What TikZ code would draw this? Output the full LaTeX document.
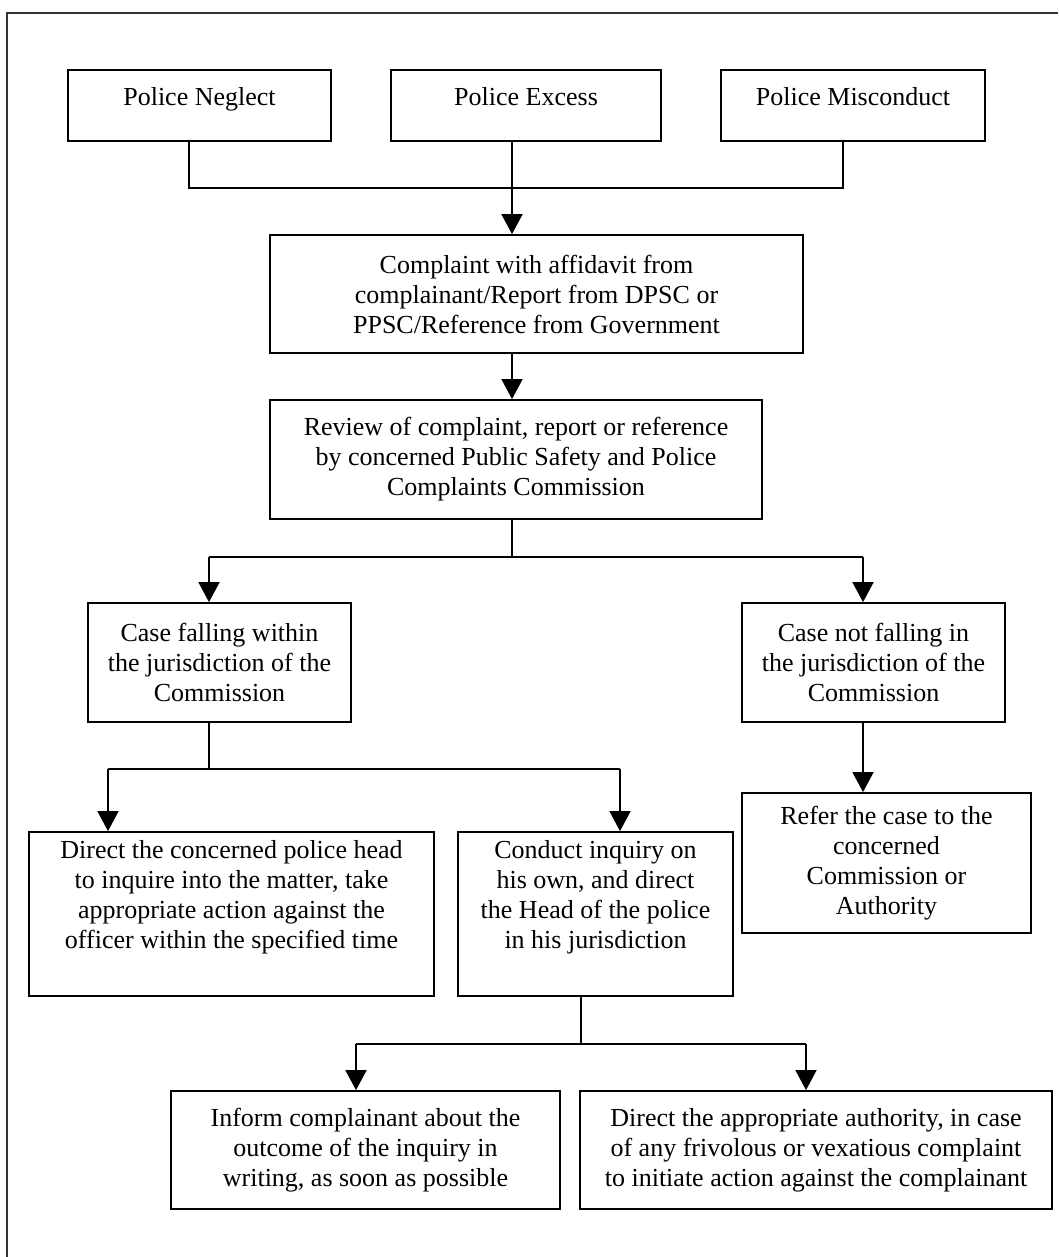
\documentclass[tikz,border=0pt]{standalone}
\usepackage{fontspec}
\setmainfont{Liberation Serif}
\usepackage{tikz}
\usetikzlibrary{arrows.meta}

\tikzset{
  box/.style={draw,line width=1.8pt,align=center,inner sep=0pt,
    font=\fontsize{26}{30}\selectfont},
  topbox/.style={box,text height=18pt,text depth=18pt},
  ln/.style={line width=1.8pt},
  arr/.style={line width=1.8pt,-{Triangle[width=21pt,length=20pt]}}
}

\begin{document}
\begin{tikzpicture}[x=1pt,y=-1pt]
  \useasboundingbox (0,0) rectangle (1058,1257);
  \draw[line width=1.5pt,black!80] (7,1257) -- (7,13) -- (1058,13);

  %% the three kinds of complaint
  \node[topbox,minimum width=263pt,minimum height=71pt](pn) at (199.5,105.5) {Police Neglect};
  \node[topbox,minimum width=270pt,minimum height=71pt](pe) at (526,105.5) {Police Excess};
  \node[topbox,minimum width=264pt,minimum height=71pt](pm) at (853,105.5) {Police Misconduct};

  \node[box,minimum width=533pt,minimum height=118pt](cw) at (536.5,294)
    {Complaint with affidavit from\\complainant/Report from DPSC or\\PPSC/Reference from Government};
  \node[box,minimum width=492pt,minimum height=119pt](rv) at (516,459.5)
    {Review of complaint, report or reference\\by concerned Public Safety and Police\\Complaints Commission};

  \coordinate (a1) at (189,188);
  \coordinate (a2) at (843,188);
  \coordinate (j1) at (512,188);
  \draw[ln] (pn.south -| a1) -- (a1) -- (a2) -- (pm.south -| a2);
  \draw[arr] (pe.south -| j1) -- (cw.north -| j1);
  \draw[arr] (cw.south -| j1) -- (rv.north -| j1);

  %% jurisdiction
  \node[box,minimum width=263pt,minimum height=119pt](cf) at (219.5,662.5)
    {Case falling within\\the jurisdiction of the\\Commission};
  \node[box,minimum width=263pt,minimum height=119pt](cn) at (873.5,662.5)
    {Case not falling in\\the jurisdiction of the\\Commission};

  \coordinate (b0) at (512,557);
  \coordinate (b1) at (209,557);
  \coordinate (b2) at (863,557);
  \draw[ln] (rv.south -| b0) -- (b0);
  \draw[ln] (b1) -- (b2);
  \draw[arr] (b1) -- (cf.north -| b1);
  \draw[arr] (b2) -- (cn.north -| b2);

  \node[box,minimum width=405pt,minimum height=164pt](dh) at (231.5,914)
    {Direct the concerned police head\\to inquire into the matter, take\\appropriate action against the\\officer within the specified time\\ \strut};
  \node[box,minimum width=275pt,minimum height=164pt](ci) at (595.5,914)
    {Conduct inquiry on\\his own, and direct\\the Head of the police\\in his jurisdiction\\ \strut};
  \node[box,minimum width=289pt,minimum height=140pt](rf) at (886.5,863)
    {Refer the case to the\\concerned\\Commission or\\Authority};

  \coordinate (c0) at (209,769);
  \coordinate (c1) at (108,769);
  \coordinate (c2) at (620,769);
  \draw[ln] (cf.south -| c0) -- (c0);
  \draw[ln] (c1) -- (c2);
  \draw[arr] (c1) -- (dh.north -| c1);
  \draw[arr] (c2) -- (ci.north -| c2);
  \draw[arr] (cn.south -| b2) -- (rf.north -| b2);

  %% after the inquiry
  \node[box,minimum width=389pt,minimum height=118pt](ic) at (365.5,1150)
    {Inform complainant about the\\outcome of the inquiry in\\writing, as soon as possible};
  \node[box,minimum width=472pt,minimum height=118pt](da) at (816,1150)
    {Direct the appropriate authority, in case\\of any frivolous or vexatious complaint\\to initiate action against the complainant};

  \coordinate (d0) at (581,1044);
  \coordinate (d1) at (356,1044);
  \coordinate (d2) at (806,1044);
  \draw[ln] (ci.south -| d0) -- (d0);
  \draw[ln] (d1) -- (d2);
  \draw[arr] (d1) -- (ic.north -| d1);
  \draw[arr] (d2) -- (da.north -| d2);
\end{tikzpicture}
\end{document}
